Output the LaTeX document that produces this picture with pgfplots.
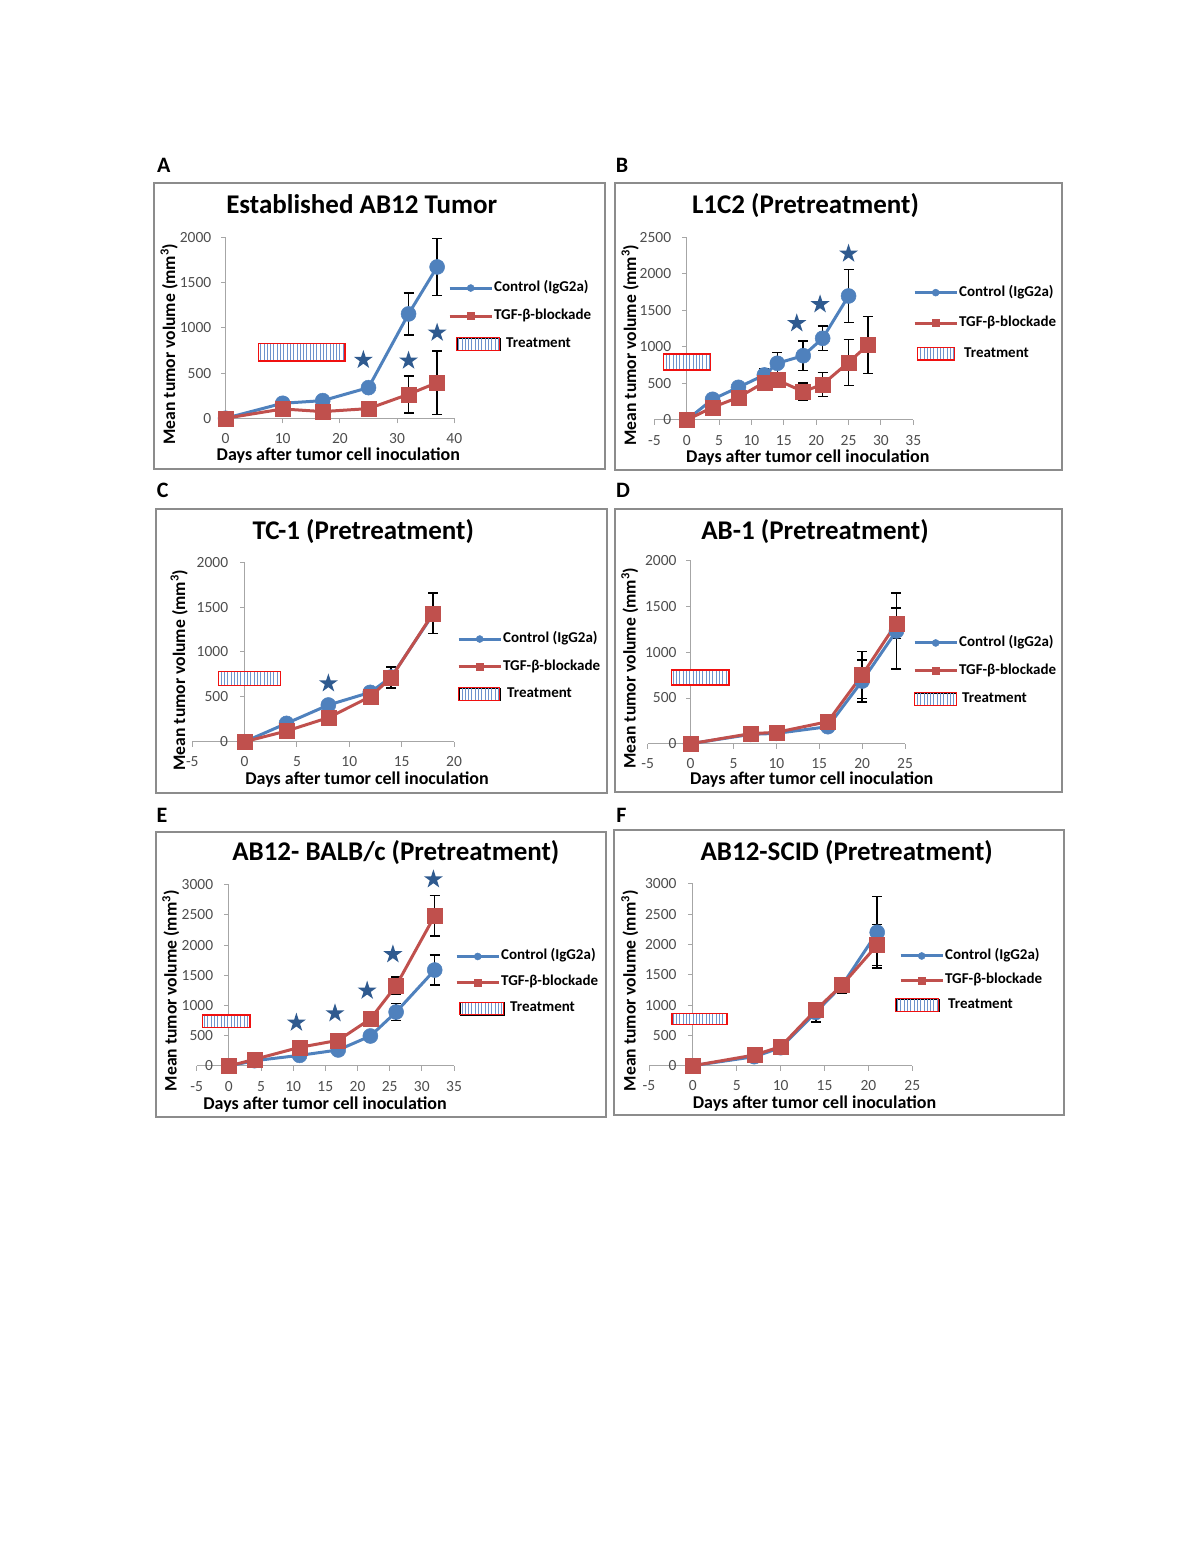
\documentclass[border=0pt]{standalone}
\usepackage{fontspec}
\setmainfont{Carlito}
\usepackage{pgfplots}
\pgfplotsset{compat=1.18}
\usetikzlibrary{patterns.meta}

\definecolor{ctrlblue}{HTML}{4F81BD}
\definecolor{tgfred}{HTML}{C0504D}
\definecolor{starblue}{HTML}{2F5A8F}
\definecolor{axgray}{HTML}{A6A6A6}
\definecolor{tickgray}{HTML}{4D4D4D}
\definecolor{framegray}{HTML}{8C8C8C}
\definecolor{boxred}{HTML}{F01010}
\definecolor{stripeblue}{HTML}{6E93CC}

\pgfdeclareplotmark{fstar}{%
  \pgfpathmoveto{\pgfpointpolar{90}{\pgfplotmarksize}}%
  \pgfpathlineto{\pgfpointpolar{126}{0.382\pgfplotmarksize}}%
  \pgfpathlineto{\pgfpointpolar{162}{\pgfplotmarksize}}%
  \pgfpathlineto{\pgfpointpolar{198}{0.382\pgfplotmarksize}}%
  \pgfpathlineto{\pgfpointpolar{234}{\pgfplotmarksize}}%
  \pgfpathlineto{\pgfpointpolar{270}{0.382\pgfplotmarksize}}%
  \pgfpathlineto{\pgfpointpolar{306}{\pgfplotmarksize}}%
  \pgfpathlineto{\pgfpointpolar{342}{0.382\pgfplotmarksize}}%
  \pgfpathlineto{\pgfpointpolar{18}{\pgfplotmarksize}}%
  \pgfpathlineto{\pgfpointpolar{54}{0.382\pgfplotmarksize}}%
  \pgfpathclose
  \pgfusepathqfill
}

\tikzset{treat/.style={draw=boxred, line width=1.4pt, preaction={fill=white},
  pattern={Lines[angle=90,distance=3.3pt,line width=0.9pt]}, pattern color=stripeblue}}

\newcommand\titlefont{\fontsize{27}{31}\selectfont\bfseries}
\newcommand\labfont{\fontsize{18}{21}\selectfont\bfseries}
\newcommand\ylabfont{\fontsize{17.6}{21}\selectfont\bfseries}
\newcommand\letfont{\fontsize{22}{26}\selectfont\bfseries}

\pgfplotsset{
 panel/.style={
  scale only axis, anchor=south west, clip=false,
  axis x line*=bottom, axis y line*=left,
  x axis line style={draw=axgray, line width=1pt},
  y axis line style={draw=none},
  xtick style={draw=axgray, line width=1pt},
  ytick style={draw=none},
  tick align=outside, major tick length=5pt,
  ticklabel style={font=\fontsize{15.5}{15.5}\selectfont, text=tickgray, inner sep=0pt},
  x tick label style={anchor=north, yshift=-10pt},
  /pgf/number format/assume math mode=true,
  /pgf/number format/1000 sep={},
  scaled ticks=false,
  legend cell align=left,
  legend style={draw=none, fill=none, inner sep=0pt, anchor=west, column sep=1pt,
     font=\fontsize{15}{15}\selectfont\bfseries,
     nodes={inner sep=0pt, text height=10pt, text depth=3pt}},
 },
 ctrl/.style={color=ctrlblue, line width=3pt, mark=*, mark size=7.5pt,
   mark options={solid, line width=0.5pt},
   legend image code/.code={\draw[mark size=3.5pt, mark repeat=2, mark phase=2]
      plot coordinates {(0pt,0pt) (21pt,0pt) (42pt,0pt)};}},
 tgf/.style={color=tgfred, line width=3pt, mark=square*, mark size=7.5pt,
   mark options={solid, line width=0.5pt},
   legend image code/.code={\draw[mark size=3.5pt, mark repeat=2, mark phase=2]
      plot coordinates {(0pt,0pt) (21pt,0pt) (42pt,0pt)};}},
 ebar/.style={draw=none, mark=none, forget plot, error bars/.cd, y dir=both, y explicit,
   error bar style={draw=black, line width=1.5pt},
   error mark options={draw=black, line width=1.5pt, rotate=90, mark size=5pt}},
 treatleg/.style 2 args={legend image code/.code={\draw[treat, overlay] (#1pt,-6.25pt) rectangle (#2pt,6.25pt);}},
 stars/.style={only marks, mark=fstar, mark size=10pt, color=starblue, forget plot},
}

\begin{document}
\begin{tikzpicture}[x=1pt,y=1pt]
\path (0,0) rectangle (1200,1553);

% frames
\draw[framegray, line width=1.5pt] (154,1370) rectangle (605,1084);
\draw[framegray, line width=1.5pt] (615,1370) rectangle (1062,1083);
\draw[framegray, line width=1.5pt] (156,1044) rectangle (607,760);
\draw[framegray, line width=1.5pt] (615,1044) rectangle (1062,761);
\draw[framegray, line width=1.5pt] (156,721) rectangle (606,436);
\draw[framegray, line width=1.5pt] (614,723) rectangle (1064,438);

% panel letters
\node[font=\letfont, inner sep=0pt] at (163.7,1387.2) {A};
\node[font=\letfont, inner sep=0pt] at (622,1387.2) {B};
\node[font=\letfont, inner sep=0pt] at (162.7,1063) {C};
\node[font=\letfont, inner sep=0pt] at (623,1062.5) {D};
\node[font=\letfont, inner sep=0pt] at (162,737.2) {E};
\node[font=\letfont, inner sep=0pt] at (621.3,737.2) {F};

% titles
\node[font=\titlefont, anchor=base, inner sep=0pt] at (361.7,1339.7) {Established AB12 Tumor};
\node[font=\titlefont, anchor=base, inner sep=0pt] at (805.5,1339.7) {L1C2 (Pretreatment)};
\node[font=\titlefont, anchor=base, inner sep=0pt] at (363.3,1013.7) {TC-1 (Pretreatment)};
\node[font=\titlefont, anchor=base, inner sep=0pt] at (815,1013.7) {AB-1 (Pretreatment)};
\node[font=\titlefont, anchor=base, inner sep=0pt] at (395.8,692) {AB12- BALB/c (Pretreatment)};
\node[font=\titlefont, anchor=base, inner sep=0pt] at (846.7,692) {AB12-SCID (Pretreatment)};

% x labels
\node[font=\labfont, anchor=base, inner sep=0pt] at (338.3,1092.3) {Days after tumor cell inoculation};
\node[font=\labfont, anchor=base, inner sep=0pt] at (807.8,1090.7) {Days after tumor cell inoculation};
\node[font=\labfont, anchor=base, inner sep=0pt] at (367,768) {Days after tumor cell inoculation};
\node[font=\labfont, anchor=base, inner sep=0pt] at (811.7,768.7) {Days after tumor cell inoculation};
\node[font=\labfont, anchor=base, inner sep=0pt] at (325,443.7) {Days after tumor cell inoculation};
\node[font=\labfont, anchor=base, inner sep=0pt] at (814.5,444.7) {Days after tumor cell inoculation};

% y labels
\node[font=\ylabfont, anchor=base, inner sep=0pt, rotate=90] at (175,1209) {Mean tumor volume (mm\textsuperscript{3})};
\node[font=\ylabfont, anchor=base, inner sep=0pt, rotate=90] at (636,1208) {Mean tumor volume (mm\textsuperscript{3})};
\node[font=\ylabfont, anchor=base, inner sep=0pt, rotate=90] at (185,883) {Mean tumor volume (mm\textsuperscript{3})};
\node[font=\ylabfont, anchor=base, inner sep=0pt, rotate=90] at (635.7,885) {Mean tumor volume (mm\textsuperscript{3})};
\node[font=\ylabfont, anchor=base, inner sep=0pt, rotate=90] at (176.7,562.2) {Mean tumor volume (mm\textsuperscript{3})};
\node[font=\ylabfont, anchor=base, inner sep=0pt, rotate=90] at (635.7,562.2) {Mean tumor volume (mm\textsuperscript{3})};

% ---------------- A ----------------
\begin{axis}[panel, at={(225.5pt,1134.7pt)}, width=228.8pt, height=181pt,
  xmin=0, xmax=40, ymin=0, ymax=2000, xtick={0,10,...,40}, ytick={0,500,...,2000},
  y tick label style={anchor=east, xshift=-9pt},
  legend style={at={(0.9725,0.565)}, row sep=15pt}]
\draw[axgray, line width=1pt] (axis cs:0,0) -- (axis cs:0,2000);
\pgfplotsinvokeforeach{0,500,...,2000}{\draw[axgray, line width=1pt] (axis cs:0,#1) -- ++(-5pt,0pt);}
\addplot[treat, mark=none, forget plot] coordinates {(5.8,633) (20.9,633) (20.9,829) (5.8,829)} --cycle;
\addplot[ebar] coordinates {(32,1153) +- (0,230) (37,1672) +- (0,313) (32,265) +- (0,205) (37,394) +- (0,352)};
\addplot[ctrl] coordinates {(0,0) (10,166) (17,195) (25,339) (32,1153) (37,1672)};
\addlegendentry{Control (IgG2a)}
\addplot[tgf] coordinates {(0,0) (10,103) (17,74) (25,107) (32,265) (37,394)};
\addlegendentry{TGF-β-blockade}
\addlegendimage{treatleg={7}{50}}
\addlegendentry{\hspace{12pt}Treatment}
\addplot[stars] coordinates {(24.1,645) (32,637) (37,946)};
\end{axis}

% ---------------- B ----------------
\begin{axis}[panel, at={(654.3pt,1133pt)}, width=259pt, height=182.7pt,
  xmin=-5, xmax=35, ymin=0, ymax=2500, xtick={-5,0,...,35}, ytick={0,500,...,2500},
  y tick label style={anchor=east, xshift=22pt},
  legend style={at={(0.9988,0.530)}, row sep=17.5pt}]
\draw[axgray, line width=1pt] (axis cs:0,0) -- (axis cs:0,2500);
\pgfplotsinvokeforeach{0,500,...,2500}{\draw[axgray, line width=1pt] (axis cs:0,#1) -- ++(-5pt,0pt);}
\addplot[treat, mark=none, forget plot] coordinates {(-3.6,684) (3.7,684) (3.7,903) (-3.6,903)} --cycle;
\addplot[ebar] coordinates {(12,616) +- (0,90) (14,776) +- (0,150) (18,880) +- (0,200) (21,1118) +- (0,170) (25,1697) +- (0,365)
  (18,388) +- (0,120) (21,488) +- (0,165) (25,789) +- (0,315) (28,1026) +- (0,388)};
\addplot[ctrl] coordinates {(0,0) (4,283) (8,447) (12,616) (14,776) (18,880) (21,1118) (25,1697)};
\addlegendentry{Control (IgG2a)}
\addplot[tgf] coordinates {(0,0) (4,173) (8,310) (12,515) (14,547) (18,388) (21,488) (25,789) (28,1026)};
\addlegendentry{TGF-β-blockade}
\addlegendimage{treatleg={3}{40}}
\addlegendentry{\hspace{5pt}Treatment}
\addplot[stars] coordinates {(17,1323) (20.6,1583) (25,2276)};
\end{axis}

% ---------------- C ----------------
\begin{axis}[panel, at={(192.3pt,811.3pt)}, width=261.7pt, height=179.4pt,
  xmin=-5, xmax=20, ymin=0, ymax=2000, xtick={-5,0,...,20}, ytick={0,500,...,2000},
  y tick label style={anchor=east, xshift=41pt},
  legend style={at={(1.0115,0.419)}, row sep=14.5pt}]
\draw[axgray, line width=1pt] (axis cs:0,0) -- (axis cs:0,2000);
\pgfplotsinvokeforeach{0,500,...,2000}{\draw[axgray, line width=1pt] (axis cs:0,#1) -- ++(-5pt,0pt);}
\addplot[treat, mark=none, forget plot] coordinates {(-2.5,624) (3.4,624) (3.4,781) (-2.5,781)} --cycle;
\addplot[ebar] coordinates {(14,714) +- (0,117) (18,1431) +- (0,225)};
\addplot[ctrl] coordinates {(0,0) (4,204) (8,409) (12,550) (14,721) (18,1420)};
\addlegendentry{Control (IgG2a)}
\addplot[tgf] coordinates {(0,0) (4,119) (8,268) (12,502) (14,714) (18,1431)};
\addlegendentry{TGF-β-blockade}
\addlegendimage{treatleg={0}{41}}
\addlegendentry{\hspace{4pt}Treatment}
\addplot[stars] coordinates {(8,650)};
\end{axis}

% ---------------- D ----------------
\begin{axis}[panel, at={(647.7pt,809.3pt)}, width=257.3pt, height=182.7pt,
  xmin=-5, xmax=25, ymin=0, ymax=2000, xtick={-5,0,...,25}, ytick={0,500,...,2000},
  y tick label style={anchor=east, xshift=34pt},
  legend style={at={(1.031,0.398)}, row sep=15pt}]
\draw[axgray, line width=1pt] (axis cs:0,0) -- (axis cs:0,2000);
\pgfplotsinvokeforeach{0,500,...,2000}{\draw[axgray, line width=1pt] (axis cs:0,#1) -- ++(-5pt,0pt);}
\addplot[treat, mark=none, forget plot] coordinates {(-2.2,642) (4.5,642) (4.5,807) (-2.2,807)} --cycle;
\addplot[ebar] coordinates {(20,686) +- (0,230) (24,1234) +- (0,415) (20,752) +- (0,255) (24,1318) +- (0,165)};
\addplot[ctrl] coordinates {(0,0) (7,102) (10,113) (16,186) (20,686) (24,1234)};
\addlegendentry{Control (IgG2a)}
\addplot[tgf] coordinates {(0,0) (7,110) (10,124) (16,241) (20,752) (24,1318)};
\addlegendentry{TGF-β-blockade}
\addlegendimage{treatleg={0}{42}}
\addlegendentry{\hspace{3pt}Treatment}
\end{axis}

% ---------------- E ----------------
\begin{axis}[panel, at={(196.7pt,487pt)}, width=257.3pt, height=181.3pt,
  xmin=-5, xmax=35, ymin=0, ymax=3000, xtick={-5,0,...,35}, ytick={0,500,...,3000},
  y tick label style={anchor=east, xshift=21.6pt},
  legend style={at={(1.004,0.4606)}, row sep=13pt}]
\draw[axgray, line width=1pt] (axis cs:0,0) -- (axis cs:0,3000);
\pgfplotsinvokeforeach{0,500,...,3000}{\draw[axgray, line width=1pt] (axis cs:0,#1) -- ++(-5pt,0pt);}
\addplot[treat, mark=none, forget plot] coordinates {(-4.1,634) (3.3,634) (3.3,844) (-4.1,844)} --cycle;
\addplot[ebar] coordinates {(26,893) +- (0,140) (32,1588) +- (0,250) (26,1329) +- (0,140) (32,2487) +- (0,335)};
\addplot[ctrl] coordinates {(0,0) (4,88) (11,176) (17,265) (22,496) (26,893) (32,1588)};
\addlegendentry{Control (IgG2a)}
\addplot[tgf] coordinates {(0,0) (4,110) (11,309) (17,425) (22,778) (26,1329) (32,2487)};
\addlegendentry{TGF-β-blockade}
\addlegendimage{treatleg={3}{47}}
\addlegendentry{\hspace{9pt}Treatment}
\addplot[stars] coordinates {(10.5,717) (16.5,871) (21.5,1246) (25.5,1848) (31.8,3088)};
\end{axis}

% ---------------- F ----------------
\begin{axis}[panel, at={(649pt,487.3pt)}, width=263.3pt, height=181.7pt,
  xmin=-5, xmax=25, ymin=0, ymax=3000, xtick={-5,0,...,25}, ytick={0,500,...,3000},
  y tick label style={anchor=east, xshift=32.7pt},
  legend style={at={(0.9495,0.469)}, row sep=11.5pt}]
\draw[axgray, line width=1pt] (axis cs:0,0) -- (axis cs:0,3000);
\pgfplotsinvokeforeach{0,500,...,3000}{\draw[axgray, line width=1pt] (axis cs:0,#1) -- ++(-5pt,0pt);}
\addplot[treat, mark=none, forget plot] coordinates {(-2.4,683) (3.9,683) (3.9,864) (-2.4,864)} --cycle;
\addplot[ebar] coordinates {(14,881) +- (0,160) (17,1327) +- (0,130) (21,2202) +- (0,590) (21,1993) +- (0,340)};
\addplot[ctrl] coordinates {(0,0) (7,149) (10,297) (14,881) (17,1327) (21,2202)};
\addlegendentry{Control (IgG2a)}
\addplot[tgf] coordinates {(0,0) (7,176) (10,314) (14,919) (17,1332) (21,1993)};
\addlegendentry{TGF-β-blockade}
\addlegendimage{treatleg={-5}{38}}
\addlegendentry{\hspace{3pt}Treatment}
\end{axis}
\end{tikzpicture}
\end{document}
